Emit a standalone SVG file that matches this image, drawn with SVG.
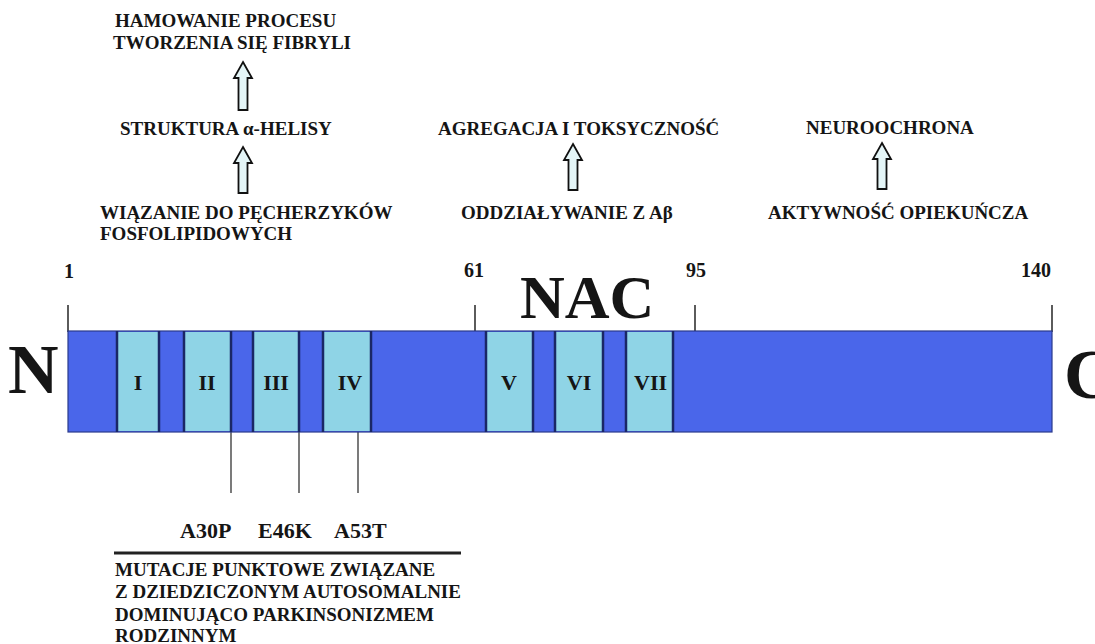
<svg xmlns="http://www.w3.org/2000/svg" width="1095" height="644" viewBox="0 0 1095 644">
<defs>
<style>
.t{font-family:"Liberation Serif","Times New Roman",serif;font-weight:bold;fill:#151515}
.lbl{font-size:19px}
.num{font-size:20px}
.mut{font-size:22px}
.rom{font-size:22px;text-anchor:middle}
.big{font-size:70px}
.seg{fill:#8fd4e6}
.div{stroke:#1a2766;stroke-width:2.5}
.tick{stroke:#333;stroke-width:1.6}
.mline{stroke:#222;stroke-width:1.2}
.arr{fill:#e4f5f7;stroke:#111;stroke-width:1.8;stroke-linejoin:miter}
</style>
</defs>
<rect width="1095" height="644" fill="#ffffff"/>

<g id="connectors">
<path class="arr" d="M243,62 L252,78 L247.5,78 L247.5,110 L238.5,110 L238.5,78 L234,78 Z"/>
<path class="arr" d="M243,147 L252,163 L247.5,163 L247.5,193 L238.5,193 L238.5,163 L234,163 Z"/>
<path class="arr" d="M573,144 L582,160 L577.5,160 L577.5,190 L568.5,190 L568.5,160 L564,160 Z"/>
<path class="arr" d="M882,143 L891,159 L886.5,159 L886.5,189 L877.5,189 L877.5,159 L873,159 Z"/>
<line class="tick" x1="68" y1="305" x2="68" y2="332"/>
<line class="tick" x1="475" y1="305" x2="475" y2="332"/>
<line class="tick" x1="695" y1="305" x2="695" y2="332"/>
<line class="tick" x1="1052" y1="305" x2="1052" y2="332"/>
<line class="mline" x1="231" y1="432" x2="231" y2="493"/>
<line class="mline" x1="299" y1="432" x2="299" y2="493"/>
<line class="mline" x1="358" y1="432" x2="358" y2="493"/>
<line x1="114" y1="553" x2="461" y2="553" stroke="#222" stroke-width="3"/>
</g>

<g id="bar">
<rect x="68" y="331" width="984" height="101" fill="#4a66ea" stroke="#2a3a8c" stroke-width="1.2"/>
</g>
<g id="seg-I"><rect class="seg" x="117" y="332" width="42" height="99"/><line class="div" x1="117" y1="331" x2="117" y2="432"/><line class="div" x1="159" y1="331" x2="159" y2="432"/><text class="t rom" x="138" y="390">I</text></g>
<g id="seg-II"><rect class="seg" x="184" y="332" width="47" height="99"/><line class="div" x1="184" y1="331" x2="184" y2="432"/><line class="div" x1="231" y1="331" x2="231" y2="432"/><text class="t rom" x="207" y="390">II</text></g>
<g id="seg-III"><rect class="seg" x="253" y="332" width="46" height="99"/><line class="div" x1="253" y1="331" x2="253" y2="432"/><line class="div" x1="299" y1="331" x2="299" y2="432"/><text class="t rom" x="276" y="390">III</text></g>
<g id="seg-IV"><rect class="seg" x="323" y="332" width="48" height="99"/><line class="div" x1="323" y1="331" x2="323" y2="432"/><line class="div" x1="371" y1="331" x2="371" y2="432"/><text class="t rom" x="350" y="390">IV</text></g>
<g id="seg-V"><rect class="seg" x="486" y="332" width="47" height="99"/><line class="div" x1="486" y1="331" x2="486" y2="432"/><line class="div" x1="533" y1="331" x2="533" y2="432"/><text class="t rom" x="509" y="390">V</text></g>
<g id="seg-VI"><rect class="seg" x="555" y="332" width="48" height="99"/><line class="div" x1="555" y1="331" x2="555" y2="432"/><line class="div" x1="603" y1="331" x2="603" y2="432"/><text class="t rom" x="579" y="390">VI</text></g>
<g id="seg-VII"><rect class="seg" x="626" y="332" width="47" height="99"/><text class="t" font-size="22" x="634" y="390">VII</text><line class="div" x1="626" y1="331" x2="626" y2="432"/><line class="div" x1="673" y1="331" x2="673" y2="432"/></g>

<g id="terminals">
<text class="t big" x="8" y="393">N</text>
<text class="t big" x="1064" y="398">C</text>
<text class="t" font-size="62" x="520" y="318">NAC</text>
</g>

<g id="positions">
<text class="t num" x="64" y="278">1</text>
<text class="t num" x="464" y="277">61</text>
<text class="t num" x="686" y="277">95</text>
<text class="t num" x="1021" y="277">140</text>
</g>

<g id="node-hamowanie">
<text class="t lbl" x="115" y="27">HAMOWANIE PROCESU</text>
<text class="t lbl" x="113" y="49">TWORZENIA SIĘ FIBRYLI</text>
</g>
<g id="node-struktura"><text class="t lbl" x="120" y="135">STRUKTURA  α-HELISY</text></g>
<g id="node-wiazanie">
<text class="t lbl" x="100" y="219">WIĄZANIE DO PĘCHERZYKÓW</text>
<text class="t lbl" x="100" y="240">FOSFOLIPIDOWYCH</text>
</g>
<g id="node-agregacja"><text class="t lbl" x="438" y="135">AGREGACJA I TOKSYCZNOŚĆ</text></g>
<g id="node-oddzialywanie"><text class="t lbl" x="461" y="219">ODDZIAŁYWANIE Z Aβ</text></g>
<g id="node-neuroochrona"><text class="t lbl" x="806" y="134">NEUROOCHRONA</text></g>
<g id="node-aktywnosc"><text class="t lbl" x="768" y="219">AKTYWNOŚĆ OPIEKUŃCZA</text></g>

<g id="node-mutations">
<text class="t mut" x="180" y="538">A30P</text>
<text class="t mut" x="258" y="538">E46K</text>
<text class="t mut" x="334" y="538">A53T</text>
</g>
<g id="node-mutacje">
<text class="t lbl" x="115" y="576">MUTACJE PUNKTOWE ZWIĄZANE</text>
<text class="t lbl" x="115" y="598">Z DZIEDZICZONYM AUTOSOMALNIE</text>
<text class="t lbl" x="115" y="621">DOMINUJĄCO PARKINSONIZMEM</text>
<text class="t lbl" x="115" y="642">RODZINNYM</text>
</g>
</svg>
